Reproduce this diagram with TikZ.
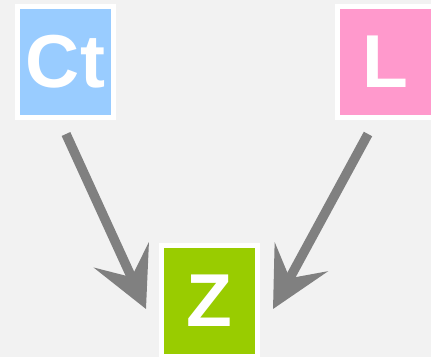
\documentclass[tikz,border=0pt]{standalone}
\usepackage{fontspec}
\setmainfont{Liberation Sans}
\usetikzlibrary{arrows.meta}
\definecolor{bgc}{HTML}{F2F2F2}
\definecolor{ctc}{HTML}{99CCFF}
\definecolor{lc}{HTML}{FF99CC}
\definecolor{zc}{HTML}{99CC00}
\definecolor{arc}{HTML}{808080}
\begin{document}
\begin{tikzpicture}[x=1pt,y=-1pt,
  box/.style={draw=white, line width=5pt, rectangle, inner sep=0pt,
    minimum width=96pt, minimum height=111pt, text=white,
    font=\fontsize{75}{75}\selectfont\bfseries},
  conn/.style={draw=arc, line width=9.5pt,
    -{Stealth[length=59pt, width=60pt, inset=24pt]}}]
\fill[bgc] (0,0) rectangle (431,357);
\useasboundingbox (0,0) rectangle (431,357);
\node[box, fill=ctc] (ct) at (65.5,62) {Ct};
\node[box, fill=lc] (l) at (385.5,62) {L};
\node[box, fill=zc] (z) at (209,301) {Z};
\coordinate (s1) at (66,134);
\coordinate (t1) at (146,309);
\coordinate (s2) at (368,134);
\coordinate (t2) at (273,309);
\draw[conn] (s1) -- (t1);
\draw[conn] (s2) -- (t2);
\end{tikzpicture}
\end{document}
